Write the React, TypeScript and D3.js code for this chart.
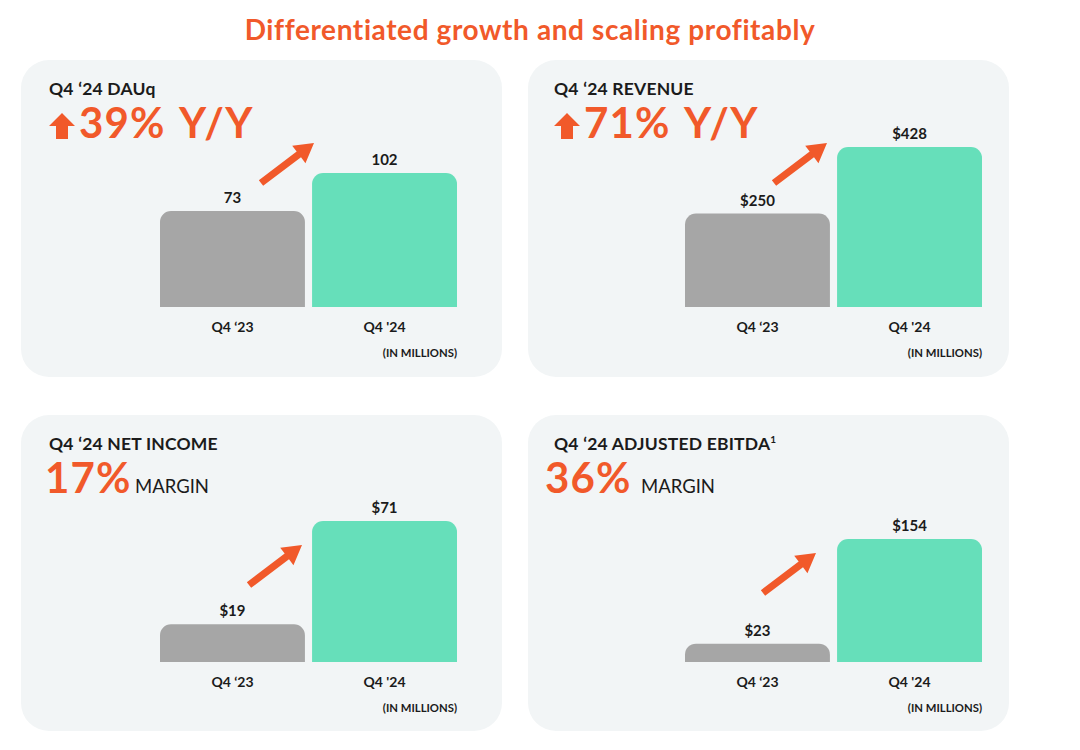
import React, { useEffect } from "react";
import * as d3 from "d3";

// ---- Data ----
const chartTitle = "Differentiated growth and scaling profitably";
const panelTitles = ["Q4 ‘24 DAUq", "Q4 ‘24 REVENUE", "Q4 ‘24 NET INCOME", "Q4 ‘24 ADJUSTED EBITDA"];
const panelSuperscripts = ["", "", "", "1"];
const headlineValues = ["39%", "71%", "17%", "36%"];
const headlineSuffixes = ["Y/Y", "Y/Y", "MARGIN", "MARGIN"];
const headlineHasArrow = [true, true, false, false];
const categories = ["Q4 ‘23", "Q4 '24"];
const valuesQ4_23 = [73, 250, 19, 23];
const valuesQ4_24 = [102, 428, 71, 154];
const valuePrefixes = ["", "$", "$", "$"];
const unitNote = "(IN MILLIONS)";

// ---- Layout (positions / styles) ----
const W = 1080;
const H = 750;
const ORANGE = "#F1592A";
const GREEN = "#66DFBA";
const GRAY = "#A6A6A6";
const PANEL_BG = "#F2F5F6";
const TEXT = "#1B1B1B";
const FONT = "Lato, 'Open Sans', sans-serif";

const panels = [
  { x: 21, y: 60, w: 481, h: 317, tx: 49, bigX: 79, sufX: 179, barL: 160, barR: 457, base: 307, maxH: 134, arrowTip: [314, 143] },
  { x: 528, y: 60, w: 481, h: 317, tx: 554, bigX: 584, sufX: 684, barL: 685, barR: 982, base: 307, maxH: 160, arrowTip: [827, 143] },
  { x: 21, y: 415, w: 481, h: 316, tx: 49, bigX: 45, sufX: 135, barL: 160, barR: 457, base: 662, maxH: 141, arrowTip: [302, 545] },
  { x: 528, y: 415, w: 481, h: 316, tx: 554, bigX: 545, sufX: 641, barL: 685, barR: 982, base: 662, maxH: 123, arrowTip: [816, 553] },
];

function topRoundedRect(x: number, y: number, w: number, h: number, r: number) {
  const rr = Math.min(r, h, w / 2);
  const p = d3.path();
  p.moveTo(x, y + h);
  p.lineTo(x, y + rr);
  p.arcTo(x, y, x + rr, y, rr);
  p.lineTo(x + w - rr, y);
  p.arcTo(x + w, y, x + w, y + rr, rr);
  p.lineTo(x + w, y + h);
  p.closePath();
  return p.toString();
}

function diagArrow(tipX: number, tipY: number) {
  const dx = 53, dy = -40;
  const len = Math.hypot(dx, dy);
  const ux = dx / len, uy = dy / len;
  const nx = -uy, ny = ux;
  const headLen = 19, headW = 11, shaftW = 3.6;
  const bx = tipX - ux * headLen, by = tipY - uy * headLen;
  const tx = tipX - dx, ty = tipY - dy;
  const pts: [number, number][] = [
    [tx + nx * shaftW, ty + ny * shaftW],
    [bx + nx * shaftW, by + ny * shaftW],
    [bx + nx * headW, by + ny * headW],
    [tipX, tipY],
    [bx - nx * headW, by - ny * headW],
    [bx - nx * shaftW, by - ny * shaftW],
    [tx - nx * shaftW, ty - ny * shaftW],
  ];
  return (d3.line()(pts) || "") + "Z";
}

function upArrowIcon(x: number, yTop: number) {
  const pts: [number, number][] = [
    [x + 13, yTop],
    [x + 26, yTop + 13],
    [x + 19, yTop + 13],
    [x + 19, yTop + 26],
    [x + 7, yTop + 26],
    [x + 7, yTop + 13],
    [x, yTop + 13],
  ];
  return (d3.line()(pts) || "") + "Z";
}

function Panel({ i }: { i: number }) {
  const p = panels[i];
  const x = d3.scaleBand<string>().domain(categories).range([p.barL, p.barR]).paddingInner(0.047).paddingOuter(0);
  const y = d3.scaleLinear().domain([0, valuesQ4_24[i]]).range([p.base, p.base - p.maxH]);
  const vals = [valuesQ4_23[i], valuesQ4_24[i]];
  const colors = [GRAY, GREEN];
  const headingY = p.y + 35;
  const bigY = p.y + 78;
  const hasArrow = headlineHasArrow[i];
  return (
    <g>
      <rect x={p.x} y={p.y} width={p.w} height={p.h} rx={28} ry={28} fill={PANEL_BG} />
      <text x={p.tx} y={headingY} fontFamily={FONT} fontWeight={700} fontSize={17.5} letterSpacing={0.2} fill={TEXT}>
        {panelTitles[i]}
        {panelSuperscripts[i] ? (
          <tspan fontSize={10} dy={-7}>{panelSuperscripts[i]}</tspan>
        ) : null}
      </text>
      {hasArrow ? <path d={upArrowIcon(p.tx, bigY - 25)} fill={ORANGE} /> : null}
      <text x={p.bigX} y={bigY} fontFamily={FONT} fontWeight={700} fontSize={42} letterSpacing={1.2} fill={ORANGE}>
        {headlineValues[i]}
      </text>
      {hasArrow ? (
        <text x={p.sufX} y={bigY} fontFamily={FONT} fontWeight={700} fontSize={42} letterSpacing={1.2} fill={ORANGE}>
          {headlineSuffixes[i]}
        </text>
      ) : (
        <text x={p.sufX} y={bigY} fontFamily={FONT} fontWeight={400} fontSize={18.5} fill={TEXT}>
          {headlineSuffixes[i]}
        </text>
      )}
      {categories.map((c, k) => {
        const bx = x(c) as number;
        const bw = x.bandwidth();
        const top = y(vals[k]);
        return (
          <g key={c}>
            <path d={topRoundedRect(bx, top, bw, p.base - top, 11)} fill={colors[k]} />
            <text x={bx + bw / 2} y={top - 8} textAnchor="middle" fontFamily={FONT} fontWeight={700} fontSize={15} fill={TEXT}>
              {valuePrefixes[i] + vals[k]}
            </text>
            <text x={bx + bw / 2} y={p.base + 25} textAnchor="middle" fontFamily={FONT} fontWeight={700} fontSize={14} fill={TEXT}>
              {c}
            </text>
          </g>
        );
      })}
      <text x={p.barR} y={p.base + 50} textAnchor="end" fontFamily={FONT} fontWeight={700} fontSize={11.3} fill={TEXT}>
        {unitNote}
      </text>
      <path d={diagArrow(p.arrowTip[0], p.arrowTip[1])} fill={ORANGE} />
    </g>
  );
}

export default function App() {
  useEffect(() => {
    document.body.style.margin = "0";
  }, []);
  return (
    <svg width={W} height={H} viewBox={`0 0 ${W} ${H}`} style={{ display: "block", background: "#ffffff" }}>
      <rect x={0} y={0} width={W} height={H} fill="#ffffff" />
      <text x={530} y={40} textAnchor="middle" fontFamily={FONT} fontWeight={700} fontSize={28} letterSpacing={0.6} fill={ORANGE}>
        {chartTitle}
      </text>
      {panels.map((_, i) => (
        <Panel key={i} i={i} />
      ))}
    </svg>
  );
}
